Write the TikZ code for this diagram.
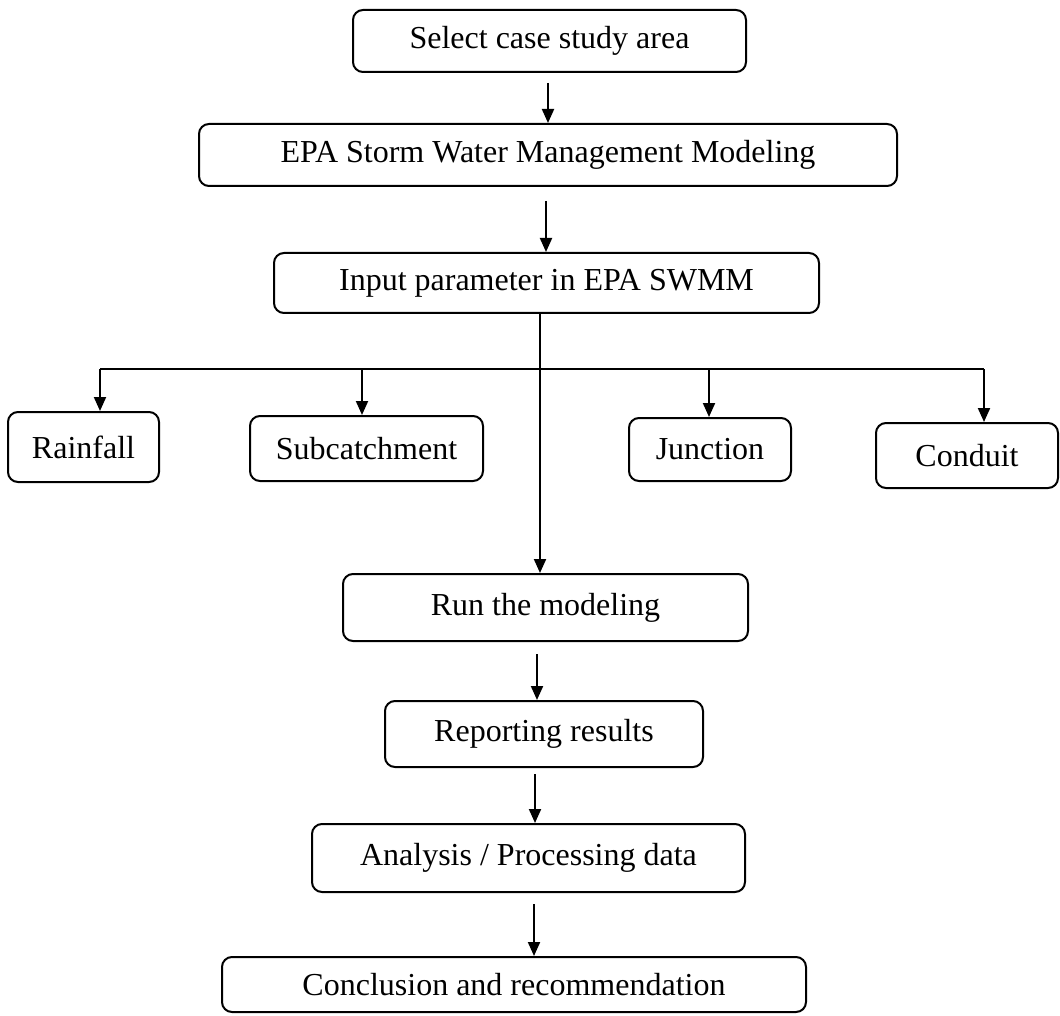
\documentclass[tikz,border=0pt]{standalone}
\usepackage{fontspec}
\setmainfont{Liberation Serif}
\usetikzlibrary{arrows.meta}
\begin{document}
\begin{tikzpicture}[x=0.5pt,y=-0.5pt,
  stepbox/.style={draw, line width=1pt, rounded corners=5pt, inner sep=0pt,
    font=\fontsize{16}{19}\selectfont},
  conn/.style={line width=1pt},
  arr/.style={line width=1pt, -{Triangle[length=7pt,width=6pt]}}]
\useasboundingbox (0,0) rectangle (1060,1016);
\node[stepbox, minimum width=196.5pt, minimum height=31pt] (sel) at (549.5,41) {Select case study area};
\node[stepbox, minimum width=349pt, minimum height=31pt] (epa) at (548,155) {EPA Storm Water Management Modeling};
\node[stepbox, minimum width=272.5pt, minimum height=30pt] (inp) at (546.5,283) {Input parameter in EPA SWMM};
\node[stepbox, minimum width=75.5pt, minimum height=35pt] (rain) at (83.5,447) {Rainfall};
\node[stepbox, minimum width=116.5pt, minimum height=32.5pt] (sub) at (366.5,448.5) {Subcatchment};
\node[stepbox, minimum width=81pt, minimum height=31.5pt] (jun) at (710,449.5) {Junction};
\node[stepbox, minimum width=91pt, minimum height=32.5pt] (con) at (967,455.5) {Conduit};
\node[stepbox, minimum width=202.5pt, minimum height=33.5pt] (run) at (545.5,607.5) {Run the modeling};
\node[stepbox, minimum width=159pt, minimum height=33pt] (rep) at (544,734) {Reporting results};
\node[stepbox, minimum width=216.5pt, minimum height=34pt] (ana) at (528.5,858) {Analysis / Processing data};
\node[stepbox, minimum width=292pt, minimum height=27.5pt] (cnc) at (514,984.5) {Conclusion and recommendation};
% main flow
\draw[arr, shorten <=5pt] ([xshift=-0.75pt]sel.south) -- ([xshift=-0.75pt]sel.south |- epa.north);
\draw[arr, shorten <=7pt] ([xshift=-1pt]epa.south) -- ([xshift=-1pt]epa.south |- inp.north);
\draw[arr] ([xshift=-3.25pt]inp.south) -- ([xshift=-3.25pt]inp.south |- run.north);
% bus
\coordinate (b1) at (100,369);
\coordinate (b2) at (362,369);
\coordinate (b3) at (709,369);
\coordinate (b4) at (984,369);
\draw[conn] (b1) -- (b4);
\draw[arr] (b1) -- (b1 |- rain.north);
\draw[arr] (b2) -- (b2 |- sub.north);
\draw[arr] (b3) -- (b3 |- jun.north);
\draw[arr] (b4) -- (b4 |- con.north);
% lower flow
\draw[arr, shorten <=6pt] ([xshift=-4.25pt]run.south) -- ([xshift=-4.25pt]run.south |- rep.north);
\draw[arr, shorten <=3pt] ([xshift=-4.5pt]rep.south) -- ([xshift=-4.5pt]rep.south |- ana.north);
\draw[arr, shorten <=5.5pt] ([xshift=2.75pt]ana.south) -- ([xshift=2.75pt]ana.south |- cnc.north);
\end{tikzpicture}
\end{document}
